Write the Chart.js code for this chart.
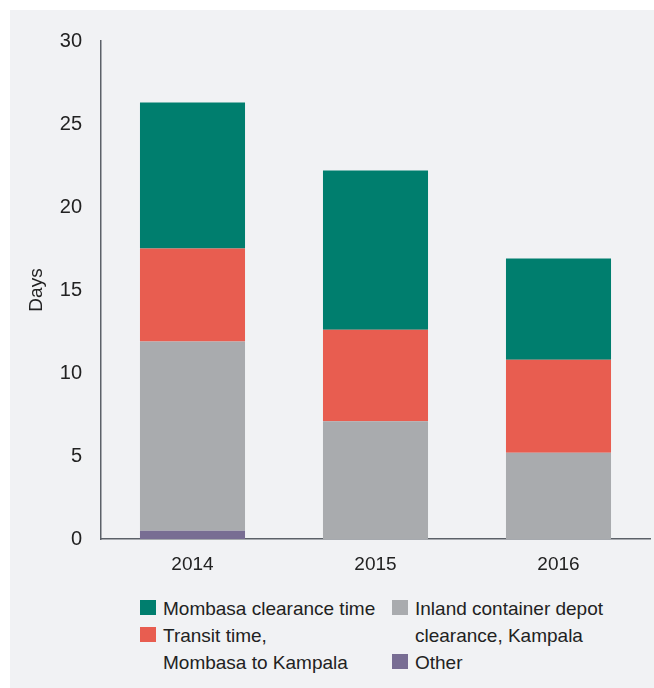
<!DOCTYPE html>
<html>
<head>
<meta charset="utf-8">
<script src="https://cdn.jsdelivr.net/npm/chart.js@4"></script>
<style>
	body { margin: 0; background: #ffffff; }
	#panel { position: absolute; left: 10px; top: 10px; width: 644px; height: 678px; background: #f1f2f4; }
	#chart_wrap { position: absolute; left: 0; top: 0; width: 644px; height: 580px; }
	#legend { position: absolute; left: 130px; top: 585px; display: flex; font-family: 'Liberation Sans', Arial, sans-serif; font-size: 19px; line-height: 27px; color: #222222; }
	#legend .col { width: 252px; }
	#legend .item { display: flex; align-items: flex-start; white-space: pre-line; }
	#legend .box { width: 16px; height: 15px; margin-top: 5px; margin-right: 7px; flex: none; }
</style>
</head>
<body>
<div id="panel">
	<div id="chart_wrap"><canvas id="chart_days"></canvas></div>
	<div id="legend"></div>
</div>
<script>
var years = ['2014', '2015', '2016'];

var other = [0.5, 0, 0];
var inland = [11.4, 7.1, 5.2];
var transit = [5.6, 5.5, 5.6];
var mombasa = [8.8, 9.6, 6.1];

var y_ticks = [0, 5, 10, 15, 20, 25, 30];

var font_family = "'Liberation Sans', Arial, sans-serif";

var chart_days = new Chart(
	document.getElementById('chart_days'),
	{
		type: 'bar',
		data: {
			labels: years,
			datasets: [
				{ label: 'Other', backgroundColor: '#786d93', data: other },
				{ label: 'Inland container depot\nclearance, Kampala', backgroundColor: '#a9abae', data: inland },
				{ label: 'Transit time,\nMombasa to Kampala', backgroundColor: '#e85d50', data: transit },
				{ label: 'Mombasa clearance time', backgroundColor: '#007e6e', data: mombasa },
			]
		},
		options: {
			responsive: true,
			maintainAspectRatio: false,
			animation: false,
			categoryPercentage: 1,
			barPercentage: 0.574,
			layout: { padding: { top: 31, right: 4, left: 0, bottom: 0 } },
			plugins: { legend: { display: false }, tooltip: { enabled: false } },
			scales: {
				x: {
					stacked: true,
					grid: { display: false },
					border: { display: true, color: '#5c6168', width: 1.5 },
					ticks: { color: '#222222', padding: 6, font: { family: font_family, size: 19 } },
					afterFit: function (axis) { axis.height = 51; }
				},
				y: {
					stacked: true,
					min: 0,
					max: 30,
					grid: { display: false },
					border: { display: true, color: '#5c6168', width: 1.5 },
					afterBuildTicks: function (axis) {
						axis.ticks = y_ticks.map(function (v) { return { value: v }; });
					},
					ticks: { color: '#222222', padding: 11, font: { family: font_family, size: 20 } },
					title: { display: true, text: 'Days', color: '#222222', padding: { top: 15, bottom: 0 }, font: { family: font_family, size: 19 } },
					afterFit: function (axis) { axis.width = 91; }
				}
			}
		}
	}
);

// html legend, two columns like the original
var legend_cols = [[3, 2], [1, 0]];
var legend = document.getElementById('legend');
legend_cols.forEach(function (col) {
	var col_div = document.createElement('div');
	col_div.className = 'col';
	col.forEach(function (i) {
		var ds = chart_days.data.datasets[i];
		var item = document.createElement('div');
		item.className = 'item';
		var box = document.createElement('span');
		box.className = 'box';
		box.style.background = ds.backgroundColor;
		var txt = document.createElement('span');
		txt.textContent = ds.label;
		item.appendChild(box);
		item.appendChild(txt);
		col_div.appendChild(item);
	});
	legend.appendChild(col_div);
});
</script>
</body>
</html>
